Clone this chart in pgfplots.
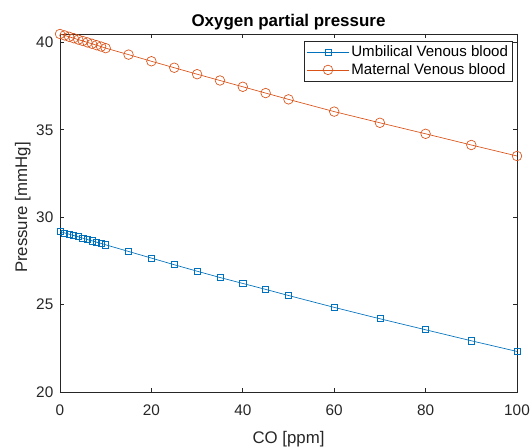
\documentclass[border=0pt]{standalone}
\usepackage{pgfplots}
\pgfplotsset{compat=1.18}
\usepackage{fontspec}
\setmainfont{Liberation Sans}
\definecolor{mblue}{rgb}{0,0.447,0.741}
\definecolor{morange}{rgb}{0.85,0.325,0.098}
\definecolor{axgray}{rgb}{0.15,0.15,0.15}

\pgfplotstableread{
x umb mat
0   29.18 40.48
1   29.10 40.40
2   29.03 40.32
3   28.95 40.24
4   28.88 40.16
5   28.80 40.08
6   28.72 40.00
7   28.65 39.92
8   28.57 39.84
9   28.50 39.76
10  28.42 39.67
15  28.04 39.30
20  27.66 38.92
25  27.28 38.55
30  26.91 38.18
35  26.55 37.82
40  26.21 37.46
45  25.87 37.10
50  25.52 36.74
60  24.84 36.04
70  24.19 35.40
80  23.56 34.77
90  22.93 34.13
100 22.32 33.50
}\pdata

\begin{document}
\begin{tikzpicture}
\begin{axis}[
    width=342.75pt, height=268.5pt,
    scale only axis,
    xmin=0, xmax=100,
    ymin=20, ymax=40.48,
    xtick={0,20,...,100},
    ytick={20,25,...,40},
    tick align=inside,
    major tick length=3.3pt,
    axis line style={axgray, line width=0.5pt},
    every tick/.style={axgray, line width=0.5pt},
    tick label style={font=\fontsize{11.5}{13}\selectfont, text=axgray},
    xticklabel style={yshift=-6.3pt},
    yticklabel style={xshift=-1.5pt},
    /pgf/number format/assume math mode=true,
    xlabel={CO [ppm]},
    ylabel={Pressure [mmHg]},
    label style={font=\fontsize{12.6}{14}\selectfont, text=axgray},
    xlabel style={at={(axis description cs:0.5,-0.1425)}, anchor=base},
    ylabel style={at={(axis description cs:-0.0722,0.515)}, anchor=base},
    title={Oxygen partial pressure},
    every axis title shift=0pt,
    title style={font=\bfseries\fontsize{12.7}{14}\selectfont,
        at={(axis description cs:0.5,1.0196)}, anchor=base},
    legend style={font=\fontsize{11.3}{13}\selectfont, draw=axgray, line width=0.5pt,
        at={(axis description cs:0.9912,0.9804)}, anchor=north east,
        inner xsep=2pt, inner ysep=1.5pt, row sep=-0.6pt,
        nodes={inner xsep=1.5pt, inner ysep=2pt}},
    legend cell align=left,
    legend image code/.code={
        \draw[mark repeat=2,mark phase=2] plot coordinates {(0pt,0pt) (15.75pt,0pt) (31.5pt,0pt)};
    },
]
\addplot[mblue, line width=0.5pt, mark=square, mark size=2.3pt,
    mark options={line width=0.5pt}] table[x=x, y=umb] {\pdata};
\addlegendentry{Umbilical Venous blood}
\addplot[morange, line width=0.5pt, mark=o, mark size=3.6pt,
    mark options={line width=0.5pt}] table[x=x, y=mat] {\pdata};
\addlegendentry{Maternal Venous blood}
\end{axis}
\pgfresetboundingbox
\path[use as bounding box] (current axis.south west) ++(-45pt,-42pt) rectangle ++(398.25pt,336pt);
\end{tikzpicture}
\end{document}
